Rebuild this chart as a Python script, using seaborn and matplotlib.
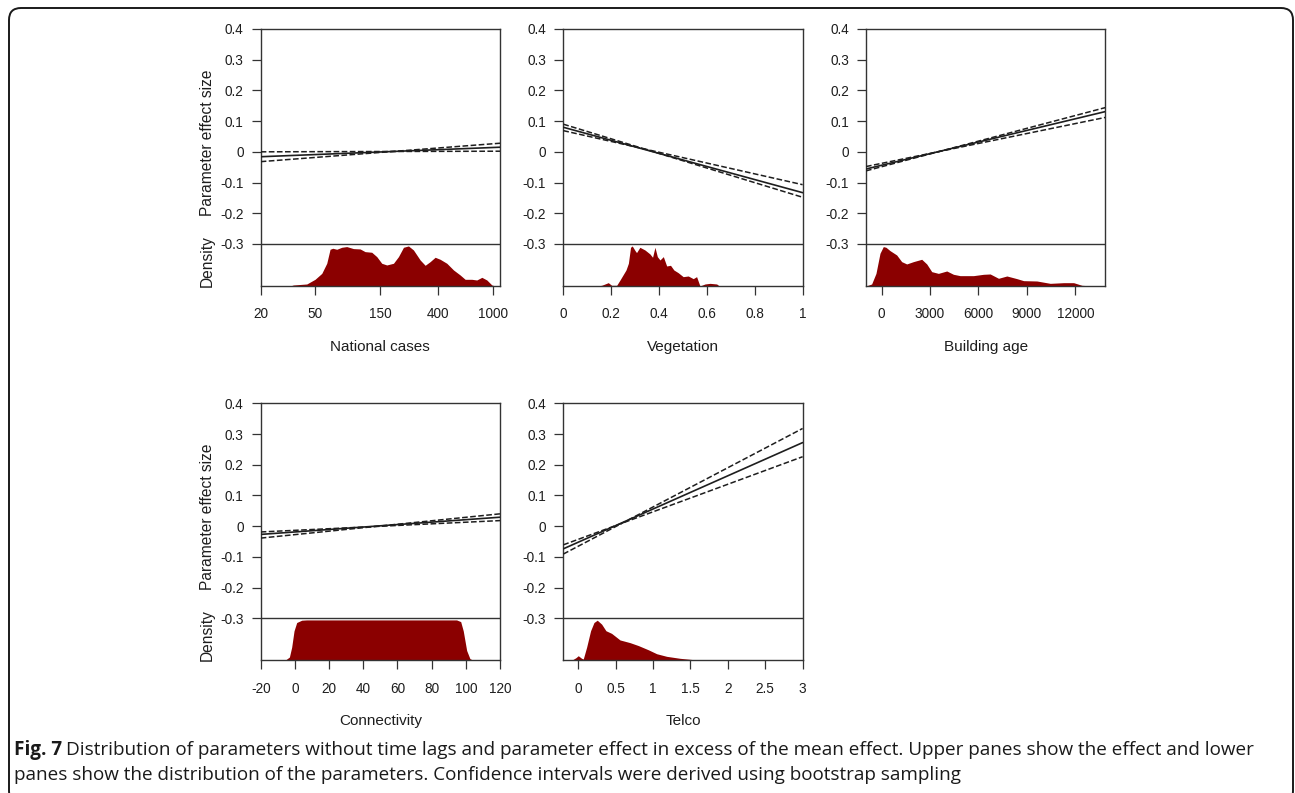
import numpy as np
import seaborn as sns
import matplotlib.pyplot as plt
from matplotlib.patches import FancyBboxPatch

sns.set_style("ticks")
plt.rcParams['font.family'] = ['Liberation Sans', 'DejaVu Sans']

# ---- values ----
y_ticks = [-0.3, -0.2, -0.1, 0, 0.1, 0.2, 0.3, 0.4]

# national cases (log axis)
nat_ends = [20, 1130]
nat_fit = [-0.016, 0.015]
nat_ci_a = [-0.032, 0.028]
nat_ci_b = [0.0, 0.002]
nat_ticks = [20, 50, 150, 400, 1000]
nat_x = [32.8, 34.7, 43.5, 50, 56, 60.9, 64.4, 67.4, 72.1, 78.4, 85.3, 95.5, 106.9,
         116.2, 130, 141.5, 153.9, 167.5, 187.5, 204, 222, 241.5, 262.6, 294, 320,
         348, 378.6, 412, 461, 516, 577, 628, 703, 764, 832, 905, 985, 1042]
nat_d = [0, 0.024, 0.048, 0.159, 0.30, 0.54, 0.873, 0.897, 0.873, 0.92, 0.937, 0.889,
         0.881, 0.817, 0.802, 0.698, 0.54, 0.50, 0.54, 0.698, 0.92, 0.952, 0.857, 0.619,
         0.492, 0.579, 0.683, 0.635, 0.54, 0.381, 0.262, 0.159, 0.159, 0.143, 0.206,
         0.143, 0.024, 0]

# vegetation
veg_ends = [0, 1]
veg_fit = [0.080, -0.133]
veg_ci_a = [0.090, -0.148]
veg_ci_b = [0.069, -0.107]
veg_ticks = [0, 0.2, 0.4, 0.6, 0.8, 1]
veg_x = [0.139, 0.16, 0.188, 0.202, 0.223, 0.237, 0.262, 0.272, 0.281, 0.288, 0.30,
         0.306, 0.32, 0.341, 0.362, 0.373, 0.383, 0.393, 0.404, 0.418, 0.432, 0.448,
         0.462, 0.48, 0.501, 0.522, 0.543, 0.557, 0.571, 0.592, 0.613, 0.641, 0.652]
veg_d = [0, 0.016, 0.079, 0.016, 0.016, 0.143, 0.381, 0.54, 0.92, 0.952, 0.841, 0.794,
         0.92, 0.857, 0.762, 0.683, 0.92, 0.698, 0.619, 0.698, 0.476, 0.492, 0.381,
         0.317, 0.222, 0.238, 0.175, 0.222, 0, 0.048, 0.063, 0.048, 0]

# building age
bld_ends = [-970, 13860]
bld_fit = [-0.056, 0.131]
bld_ci_a = [-0.062, 0.144]
bld_ci_b = [-0.048, 0.112]
bld_ticks = [0, 3000, 6000, 9000, 12000]
bld_x = [-972, -621, -352, -103, 103, 269, 517, 931, 1241, 1552, 1966, 2483, 2793,
         3104, 3517, 4035, 4449, 4862, 5690, 6311, 6725, 7242, 7759, 8380, 8794, 9621,
         10449, 11277, 11897, 12415, 13139, 13862]
bld_d = [0, 0.048, 0.30, 0.778, 0.937, 0.92, 0.841, 0.738, 0.579, 0.524, 0.579, 0.635,
         0.524, 0.341, 0.30, 0.357, 0.278, 0.246, 0.246, 0.278, 0.286, 0.183, 0.238,
         0.175, 0.127, 0.119, 0.063, 0.079, 0.079, 0.016, 0, 0]

# connectivity
con_ends = [-20, 120]
con_fit = [-0.027, 0.029]
con_ci_a = [-0.039, 0.040]
con_ci_b = [-0.019, 0.018]
con_ticks = [-20, 0, 20, 40, 60, 80, 100, 120]
con_x = [-5.77, -3.2, -1.87, -0.5, 1.06, 4.0, 6.9, 94.6, 97.0, 98.5, 100.5, 102.4, 104.4]
con_d = [0, 0.078, 0.3125, 0.70, 0.898, 0.953, 0.96, 0.96, 0.92, 0.70, 0.234, 0.039, 0]

# telco
tel_ends = [-0.2, 3]
tel_fit = [-0.074, 0.272]
tel_ci_a = [-0.091, 0.318]
tel_ci_b = [-0.061, 0.226]
tel_ticks = [0, 0.5, 1, 1.5, 2, 2.5, 3]
tel_x = [-0.089, -0.031, 0, 0.045, 0.067, 0.112, 0.165, 0.21, 0.254, 0.3125, 0.37,
         0.446, 0.558, 0.692, 0.804, 0.9375, 1.049, 1.183, 1.362, 1.54, 1.652]
tel_d = [0, 0.0625, 0.109, 0.047, 0.031, 0.3125, 0.703, 0.898, 0.953, 0.86, 0.703,
         0.64, 0.484, 0.42, 0.35, 0.25, 0.156, 0.094, 0.047, 0.016, 0]

caption_bold = "Fig. 7"
caption_1 = ("Distribution of parameters without time lags and parameter effect in "
             "excess of the mean effect. Upper panes show the effect and lower")
caption_2 = ("panes show the distribution of the parameters. Confidence intervals "
             "were derived using bootstrap sampling")

panels = [
    ("National cases", nat_ends, nat_fit, nat_ci_a, nat_ci_b, nat_ticks, nat_x, nat_d, True),
    ("Vegetation", veg_ends, veg_fit, veg_ci_a, veg_ci_b, veg_ticks, veg_x, veg_d, False),
    ("Building age", bld_ends, bld_fit, bld_ci_a, bld_ci_b, bld_ticks, bld_x, bld_d, False),
    ("Connectivity", con_ends, con_fit, con_ci_a, con_ci_b, con_ticks, con_x, con_d, False),
    ("Telco", tel_ends, tel_fit, tel_ci_a, tel_ci_b, tel_ticks, tel_x, tel_d, False),
]

W, H = 1295, 793
fig = plt.figure(figsize=(W / 100, H / 100), dpi=100)
fig.patch.set_facecolor('white')

lefts = [260.7, 563.3, 866, 260.7, 563.3]
tops = [29, 29, 29, 403.3, 403.3]
aw, ah = 239.3, 257
ymin, ytop, split = -0.437, 0.4, -0.3
ink = '#1e1e1e'

for i, (name, ends, fit, ci_a, ci_b, xt, dx, dd, logx) in enumerate(panels):
    ax = fig.add_axes([lefts[i] / W, 1 - (tops[i] + ah) / H, aw / W, ah / H])
    if logx:
        ax.set_xscale('log')
    dd = np.array(dd)
    ax.fill_between(dx, ymin, ymin + dd * (split - ymin), color='#8b0000', lw=0, zorder=1)
    sns.lineplot(x=ends, y=fit, ax=ax, color=ink, lw=1.2, zorder=3)
    sns.lineplot(x=ends, y=ci_a, ax=ax, color=ink, lw=1.1, linestyle='--', dashes=(4, 3), zorder=3)
    sns.lineplot(x=ends, y=ci_b, ax=ax, color=ink, lw=1.1, linestyle='--', dashes=(4, 3), zorder=3)
    ax.axhline(split, color='#333333', lw=1.0, zorder=4)

    ax.set_xlim(ends[0], ends[1])
    ax.set_ylim(ymin, ytop)
    ax.set_yticks(y_ticks)
    ax.set_yticklabels([f"{v:g}" for v in y_ticks])
    ax.set_xticks(xt)
    ax.set_xticklabels([f"{v:g}" for v in xt])
    ax.minorticks_off()
    for s in ax.spines.values():
        s.set_color('#333333')
        s.set_linewidth(1.0)
    ax.tick_params(axis='both', direction='out', length=6.8, width=0.9, color='#333333',
                   labelsize=9.8, labelcolor=ink)
    ax.tick_params(axis='x', pad=8.5)
    ax.tick_params(axis='y', pad=5.5)
    ax.set_xlabel(name, fontsize=11, color=ink, labelpad=13.5)
    ax.set_ylabel('')
    if i in (0, 3):
        ax.text(-0.224, 0.03, "Parameter effect size", rotation=90, ha='center', va='center',
                fontsize=11.2, color=ink, transform=ax.get_yaxis_transform())
        ax.text(-0.224, -0.355, "Density", rotation=90, ha='center', va='center',
                fontsize=11.2, color=ink, transform=ax.get_yaxis_transform())

# outer rounded frame, open at the bottom
frame = FancyBboxPatch((0.09, -0.1), 12.84, 7.95, boxstyle="round,pad=0,rounding_size=0.12",
                       transform=fig.dpi_scale_trans, fill=False, ec='#1a1a1a', lw=1.4)
fig.add_artist(frame)

cap_font = ['Open Sans', 'DejaVu Sans']
tb = fig.text(14 / W, 1 - 755 / H, caption_bold, fontsize=13.6, fontweight='bold',
              family=cap_font, color='#1a1a1a', va='baseline')
fig.canvas.draw()
bb = tb.get_window_extent()
fig.text((bb.x1 + 4) / W, 1 - 755 / H, caption_1, fontsize=13.6, family=cap_font,
         color='#1a1a1a', va='baseline')
fig.text(14 / W, 1 - 780 / H, caption_2, fontsize=13.6, family=cap_font,
         color='#1a1a1a', va='baseline')

fig.savefig('out.png', dpi=100, facecolor='white')
